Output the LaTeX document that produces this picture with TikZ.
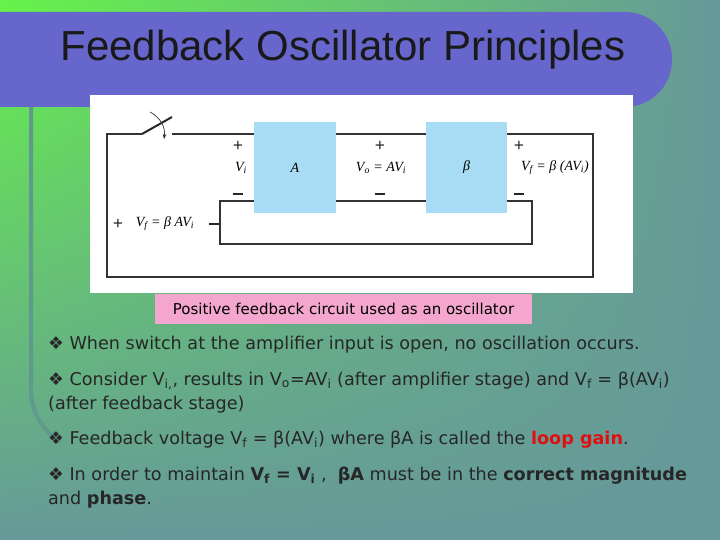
\documentclass[tikz,border=0pt]{standalone}
\usepackage{fontspec}
\setmainfont{DejaVu Sans}
\newfontfamily\titlefont{Liberation Sans}
\newfontfamily\cirfont{Liberation Serif}
\usetikzlibrary{arrows.meta,shadings}
\definecolor{bgG}{HTML}{66F24A}
\definecolor{bgT}{HTML}{669999}
\definecolor{barP}{HTML}{6666CC}
\definecolor{boxB}{HTML}{A8DCF4}
\definecolor{capP}{HTML}{F4A6CE}
\definecolor{lineT}{HTML}{5F9A8C}
\definecolor{redT}{HTML}{E01010}
\newcommand{\lsub}[1]{\textsubscript{#1}}
\newcommand{\mysgnminus}{\rule{10pt}{2pt}}
\tikzset{
  wire/.style={draw=black!80, line width=1.2pt},
  blk/.style={fill=boxB, draw=none},
  clab/.style={font=\cirfont\itshape\fontsize{14}{14}\selectfont, inner sep=0pt},
  sgn/.style={font=\cirfont\bfseries\fontsize{18}{18}\selectfont, inner sep=0pt, text=black!85},
  bul/.style={anchor=base west, inner sep=0pt, font=\fontsize{17.6}{20}\selectfont, text=black!85},
}
\begin{document}
\begin{tikzpicture}[x=1pt,y=-1pt]
\useasboundingbox (0,0) rectangle (720,540);
\shade[upper left=bgG, upper right=bgT, lower left=bgT, lower right=bgT] (0,0) rectangle (720,540);
\shade[left color=bgG, right color=bgT] (0,0) rectangle (720,14);
% vertical line
\draw[lineT, line width=4pt] (31,107) -- (31,390) arc[start angle=180, end angle=120, radius=60];
% title bar
\fill[barP] (0,12) -- (625,12) arc[start angle=-90, end angle=0, radius=47] -- (672,60) arc[start angle=0, end angle=90, radius=47] -- (0,107) -- cycle;
\node[font=\titlefont\fontsize{42}{42}\selectfont, text=black!90] (title) at (343,50) {Feedback Oscillator Principles};
% white image
\fill[white] (90,95) rectangle (633,293);
% circuit
\node[blk, minimum width=82pt, minimum height=91pt] (A) at (295,167.5) {};
\node[blk, minimum width=81pt, minimum height=91pt] (B) at (466.5,167.5) {};
\node[clab] (Alab) at (A) {A};
\node[clab] (Blab) at (B) {β};
\coordinate (sw1) at (142,134);
\coordinate (sw2) at (172,117);
\coordinate (sw3) at (172,134);
\draw[wire] (sw3) -- (A.west |- sw3);
\draw[wire] (A.east |- sw3) -- (B.west |- sw3);
\draw[wire] (B.east |- sw3) -- (593,134) -- (593,277) -- (107,277) -- (107,134) -- (sw1);
\draw[black!85, line width=2pt] (sw1) -- (sw2);
\draw[wire] (A.west |- 0,201) -- (220,201) -- (220,244) -- (532,244) -- (532,201) -- (B.east |- 0,201);
\draw[wire] (A.east |- 0,201) -- (B.west |- 0,201);
\draw[black!80, line width=0.7pt, -{Stealth[length=5pt]}] (150,112) to[bend left=35] (164,139);
\node[sgn] (p1) at (238,146) {+};
\node[clab] (vi) at (241,168) {V\lsub{i}};
\node[sgn] (m1) at (238,194) {\mysgnminus};
\node[sgn] (p2) at (380,146) {+};
\node[clab] (vo) at (381,168) {V\lsub{o} = AV\lsub{i}};
\node[sgn] (m2) at (380,194) {\mysgnminus};
\node[sgn] (p3) at (519,146) {+};
\node[clab] (vf) at (555,168) {V\lsub{f} = β (AV\lsub{i})};
\node[sgn] (m3) at (519,194) {\mysgnminus};
\node[sgn] (p4) at (118,224) {+};
\node[clab] (vf2) at (165,224) {V\lsub{f} = β AV\lsub{i}};
\node[sgn] (m4) at (214,224) {\mysgnminus};
% caption
\node[fill=capP, minimum width=377pt, minimum height=30pt, inner sep=0pt, font=\fontsize{15}{15}\selectfont] (cap) at (343.5,308.5) {Positive feedback circuit used as an oscillator};
% bullets
\node[bul] (b1) at (48,349) {❖ When switch at the amplifier input is open, no oscillation occurs.};
\node[bul] (b2) at (48,385) {❖ Consider V\lsub{i,}, results in V\lsub{o}=AV\lsub{i} (after amplifier stage) and V\lsub{f} = β(AV\lsub{i})};
\node[bul] (b2b) at (48,409) {(after feedback stage)};
\node[bul] (b3) at (48,444) {❖ Feedback voltage V\lsub{f} = β(AV\lsub{i}) where βA is called the \textcolor{redT}{\textbf{loop gain}}.};
\node[bul] (b4) at (48,480) {❖ In order to maintain \textbf{V\lsub{f} = V\lsub{i}} ,~ \textbf{βA} must be in the \textbf{correct magnitude}};
\node[bul] (b4b) at (48,504) {and \textbf{phase}.};
\end{tikzpicture}
\end{document}
